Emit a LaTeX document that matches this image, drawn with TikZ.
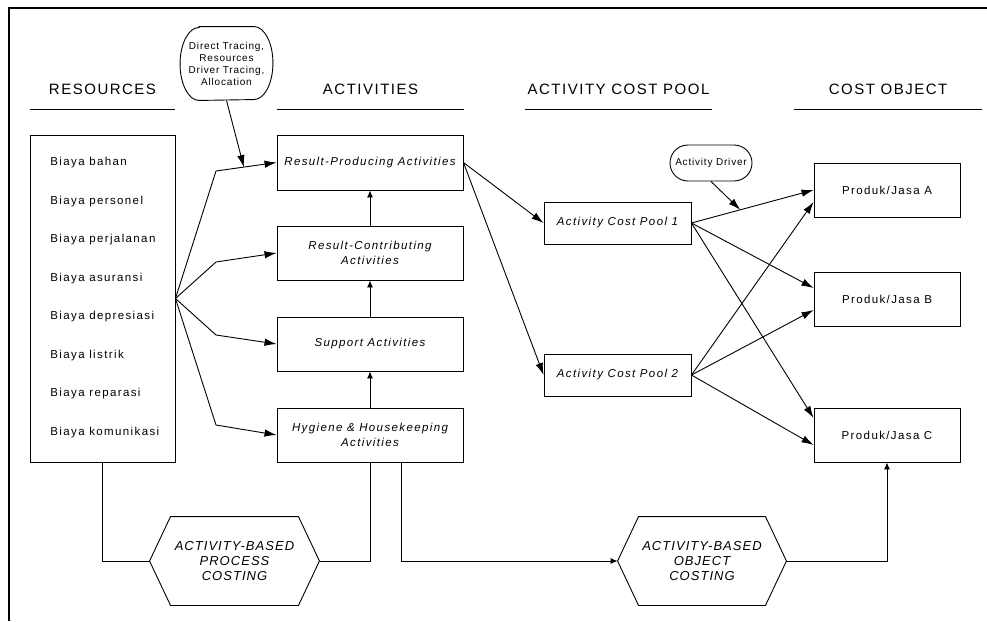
\documentclass[tikz,border=0pt]{standalone}
\usepackage{fontspec}
\setmainfont{Liberation Sans}
\newfontfamily\boxfont{Liberation Sans}[LetterSpace=12]
\newfontfamily\headfont{Liberation Sans}[LetterSpace=10]
\newfontfamily\notefont{Liberation Sans}[LetterSpace=8]
\usetikzlibrary{arrows.meta,shapes.misc,calc}

\begin{document}
\begin{tikzpicture}[x=1pt,y=-1pt,line width=.9pt,
    >={Latex[length=12pt,width=7.5pt]},
    small/.style={-{Latex[length=7pt,width=6pt]}},
    head/.style={minimum height=40,inner sep=0pt,font=\headfont\fontsize{15}{18}\selectfont},
    item/.style={inner sep=0pt,anchor=west,font=\boxfont\fontsize{11.5}{15}\selectfont},
    actbox/.style={draw,minimum width=186,minimum height=55,inner sep=0pt,align=center,
      font=\boxfont\itshape\fontsize{11.5}{15}\selectfont},
    poolbox/.style={actbox,minimum width=147,minimum height=42},
    prodbox/.style={actbox,minimum width=146,minimum height=54,font=\boxfont\fontsize{11.5}{15}\selectfont},
    bubble/.style={inner sep=0pt,align=center,font=\notefont\fontsize{10}{12}\selectfont},
    hexbox/.style={minimum height=88,inner sep=0pt,align=center,
      font=\notefont\itshape\fontsize{13}{15}\selectfont}]
        \useasboundingbox (0,0) rectangle (987,621);
        % frame
        \draw[line width=1.5pt] (987,8) -- (9,8) -- (9,621);
        % headings
        \foreach \nm/\x/\w/\t in {hres/102.5/145/RESOURCES,hact/370.5/187/ACTIVITIES,
            hpool/618.5/187/ACTIVITY COST POOL,hobj/888/188/COST OBJECT} {
          \node[head,minimum width=\w] (\nm) at (\x,89) {\t};
          \draw (\nm.south west) -- (\nm.south east);
        }
        % resources
        \node[draw,minimum width=145,minimum height=327] (res) at (102.5,298.5) {};
        \foreach \t [count=\i from 0] in {Biaya bahan,Biaya personel,Biaya perjalanan,
            Biaya asuransi,Biaya depresiasi,Biaya listrik,Biaya reparasi,Biaya komunikasi}
          \node[item] (r\i) at (50,{163+38.5*\i}) {\t};
        % activities
        \node[actbox] (rp) at (370,162.5) {Result-Producing Activities};
        \node[actbox,minimum height=54] (rc) at (370,253) {Result-Contributing\\Activities};
        \node[actbox,minimum height=54] (sup) at (370,344) {Support Activities};
        \node[actbox,minimum height=54] (hyg) at (370,435) {Hygiene \& Housekeeping\\Activities};
        \node[bubble,minimum width=92,minimum height=73] (dtr)
          at (226.5,63.5) {Direct Tracing,\\Resources\\Driver Tracing,\\Allocation};
        \draw ([xshift=19]dtr.north west) -- ([xshift=-19]dtr.north east)
          arc[start angle=90,end angle=-90,x radius=19pt,y radius=36.5pt]
          -- ([xshift=19]dtr.south west)
          arc[start angle=270,end angle=90,x radius=19pt,y radius=36.5pt] -- cycle;
        % cost pools and objects
        \node[poolbox] (pool1) at (617.5,223) {Activity Cost Pool 1};
        \node[poolbox] (pool2) at (617.5,375) {Activity Cost Pool 2};
        \node[prodbox] (prA) at (887,190) {Produk/Jasa A};
        \node[prodbox] (prB) at (887,299) {Produk/Jasa B};
        \node[prodbox] (prC) at (887,435) {Produk/Jasa C};
        \node[bubble,draw,rounded rectangle,minimum width=82,minimum height=36] (adr)
          at (711,163) {Activity Driver};
        % costing
        \node[hexbox,minimum width=169] (abpc) at (234.5,561) {ACTIVITY-BASED\\PROCESS\\COSTING};
        \node[hexbox,minimum width=168] (abop) at (702,561) {ACTIVITY-BASED\\OBJECT\\COSTING};
        \foreach \h in {abpc,abop}
          \draw (\h.west) -- ([xshift=21]\h.north west) -- ([xshift=-21]\h.north east)
            -- (\h.east) -- ([xshift=-21]\h.south east) -- ([xshift=21]\h.south west) -- cycle;

        % resources to activities
        \coordinate (k1) at (216,171);
        \foreach \nm/\y in {rp/171,rc/262,sup/335,hyg/425}
          \draw[->] (res.east) -- (216,\y) -- (\nm.west);
        \draw[->] (dtr.south) -- ($(k1)!.46!(rp.west)$);
        \draw[small] (rc) -- (rp);
        \draw[small] (sup) -- (rc);
        \draw[small] (hyg) -- (sup);
        \draw[->] (rp.east) -- (pool1.west);
        \draw[->] (rp.east) -- (pool2.west);
        % pools to objects
        \draw[->] (pool1.east) -- (prA.west);
        \draw[->] (pool1.east) -- ([yshift=11]prB.west);
        \draw[->] (pool1.east) -- ([yshift=17]prC.west);
        \draw[->] (pool2.east) -- ([yshift=-12]prA.west);
        \draw[->] (pool2.east) -- ([yshift=-11]prB.west);
        \draw[->] (pool2.east) -- ([yshift=-10]prC.west);
        \draw[->] (adr.south) -- ($(pool1.east)!.4!(prA.west)$);
        % bottom lines
        \draw (res.south) |- (abpc.west);
        \draw (abpc.east) -| (hyg.south);
        \draw[small] ([xshift=31]hyg.south) |- (abop.west);
        \draw[small] (abop.east) -| (prC.south);
\end{tikzpicture}
\end{document}
